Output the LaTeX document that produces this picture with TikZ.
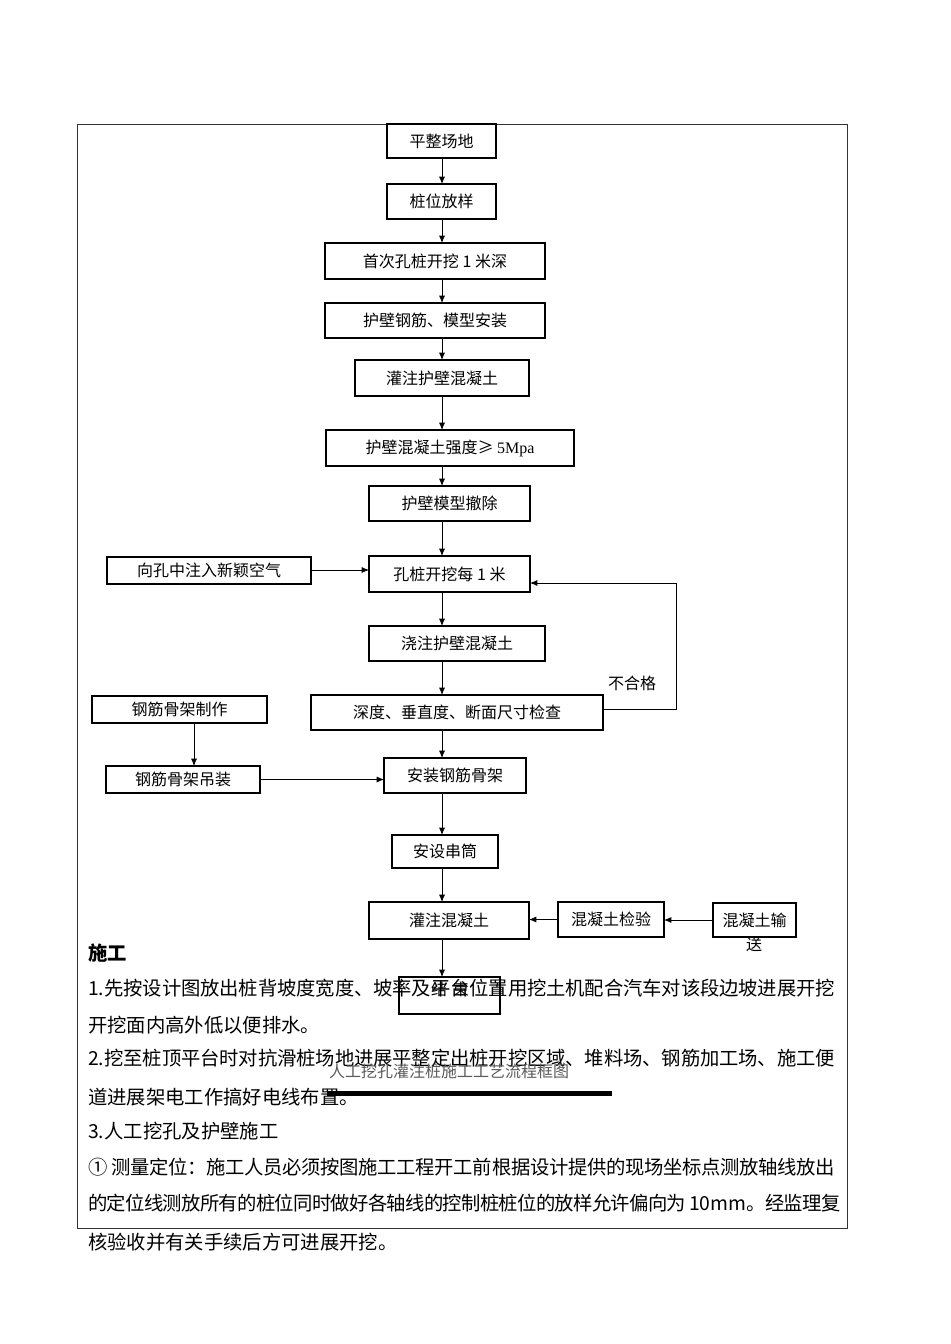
\documentclass[tikz,border=0pt]{standalone}
\usepackage{fontspec}
\setmainfont{Noto Sans CJK SC}
\newfontfamily\latserif{Liberation Serif}
\usetikzlibrary{arrows.meta}
\XeTeXinterchartokenstate=1
\makeatletter
\count@="3000
\loop\ifnum\count@<"A000 \XeTeXcharclass\count@=7 \advance\count@\@ne\repeat
\count@="FF00
\loop\ifnum\count@<"FFF0 \XeTeXcharclass\count@=7 \advance\count@\@ne\repeat
\makeatother
\XeTeXinterchartoks 7 7 = {\hskip 0pt plus 1pt minus 0.5pt\relax}
\tikzset{
  bx/.style={draw, line width=0.9pt, inner sep=0pt, outer sep=0pt, font=\fontsize{12}{14}\selectfont},
  arr/.style={-{Latex[length=5.5pt,width=4.5pt]}, line width=0.6pt},
  body/.style={anchor=west, inner sep=0pt, font=\fontsize{14.5}{17}\selectfont},
  lbl/.style={inner sep=0pt, font=\fontsize{12}{14}\selectfont},
}
\begin{document}
\begin{tikzpicture}[x=0.75pt,y=-0.75pt]
\useasboundingbox (0,0) rectangle (950,1344);
% frame
\draw[line width=0.6pt, black!80] (77,124) rectangle (847,1228);
% boxes
\node[bx, minimum width=81.75pt, minimum height=25.5pt] (n1) at (441.5,141) {平整场地};
\node[bx, minimum width=81.75pt, minimum height=26.25pt] (n2) at (441.5,201.5) {桩位放样};
\node[bx, minimum width=165pt, minimum height=27pt] (n3) at (435,261) {首次孔桩开挖 1 米深};
\node[bx, minimum width=165pt, minimum height=26.25pt] (n4) at (435,320.5) {护壁钢筋、模型安装};
\node[bx, minimum width=130.5pt, minimum height=27pt] (n5) at (442,378) {灌注护壁混凝土};
\node[bx, minimum width=186pt, minimum height=27pt] (n6) at (450,448) {护壁混凝土强度≥ {\latserif 5Mpa}};
\node[bx, minimum width=120.75pt, minimum height=26.25pt] (n7) at (449.5,503.5) {护壁模型撤除};
\node[bx, minimum width=120.75pt, minimum height=27pt] (n8) at (449.5,574) {孔桩开挖每 1 米};
\node[bx, minimum width=153pt, minimum height=20.25pt] (n9) at (209,570.5) {向孔中注入新颖空气};
\node[bx, minimum width=132pt, minimum height=26.25pt] (n10) at (457,643.5) {浇注护壁混凝土};
\node[bx, minimum width=219pt, minimum height=26.25pt] (n11) at (457,712.5) {深度、垂直度、断面尺寸检查};
\node[bx, minimum width=131.25pt, minimum height=20.25pt] (n12) at (179.5,709.5) {钢筋骨架制作};
\node[bx, minimum width=115.5pt, minimum height=20.25pt] (n13) at (183,779.5) {钢筋骨架吊装};
\node[bx, minimum width=106.5pt, minimum height=26.25pt] (n14) at (455,775.5) {安装钢筋骨架};
\node[bx, minimum width=79.5pt, minimum height=24.75pt] (n15) at (445,851.5) {安设串筒};
\node[bx, minimum width=120pt, minimum height=27.75pt] (n16) at (449,920.5) {灌注混凝土};
\node[bx, minimum width=79.5pt, minimum height=26.25pt] (n17) at (611,919.5) {混凝土检验};
\node[bx, minimum width=62.25pt, minimum height=25.5pt] (n18) at (754.5,920) {混凝土输};
\node[lbl] (n18b) at (754,944) {送};
\node[bx, minimum width=75.75pt, minimum height=27.75pt] (n19) at (449.5,995.5) {};
\node[lbl] (n19t) at (450,989) {结\hspace{0.35em}束};
% connectors
\coordinate (col) at (442,0);
\draw[arr] (n1.south -| col) -- (n2.north -| col);
\draw[arr] (n2.south -| col) -- (n3.north -| col);
\draw[arr] (n3.south -| col) -- (n4.north -| col);
\draw[arr] (n4.south -| col) -- (n5.north -| col);
\draw[arr] (n5.south -| col) -- (n6.north -| col);
\draw[arr] (n6.south -| col) -- (n7.north -| col);
\draw[arr] (n7.south -| col) -- (n8.north -| col);
\draw[arr] (n8.south -| col) -- (n10.north -| col);
\draw[arr] (n10.south -| col) -- (n11.north -| col);
\draw[arr] (n11.south -| col) -- (n14.north -| col);
\draw[arr] (n14.south -| col) -- (n15.north -| col);
\draw[arr] (n15.south -| col) -- (n16.north -| col);
\draw[arr] (n16.south -| col) -- (n19.north -| col);
\coordinate (c9) at (0,570);
\draw[arr] (n9.east |- c9) -- (n8.west |- c9);
\coordinate (c12) at (194,0);
\draw[arr] (n12.south -| c12) -- (n13.north -| c12);
\draw[arr] (n13.east) -- (n13.east -| n14.west);
\draw[arr] (n17.west) -- (n17.west -| n16.east);
\draw[arr] (n18.west) -- (n18.west -| n17.east);
\coordinate (fbl) at (676,709);
\coordinate (fbt) at (676,583);
\draw[arr] (n11.east |- fbl) -- (fbl) -- (fbt) -- (fbt -| n8.east);
\node[lbl] (ng) at (632,683) {不合格};
% body text
\node[body] (t0) at (88,953) {\bfseries 施工};
\node[body] (t1) at (88,988) {\hbox to 560pt{1.先按设计图放出桩背坡度宽度、坡率及平台位置用挖土机配合汽车对该段边坡进展开挖}};
\node[body] (t2) at (88,1025) {开挖面内高外低以便排水。};
\node[body] (t3) at (88,1058) {\hbox to 560pt{2.挖至桩顶平台时对抗滑桩场地进展平整定出桩开挖区域、堆料场、钢筋加工场、施工便}};
\node[body] (t4) at (88,1097) {道进展架电工作搞好电线布置。};
\node[body] (t5) at (88,1131) {3.人工挖孔及护壁施工};
\node[body] (t6) at (88,1167) {\hbox to 560pt{① 测量定位：施工人员必须按图施工工程开工前根据设计提供的现场坐标点测放轴线放出}};
\node[body] (t7) at (88,1203) {\hbox to 560pt{的定位线测放所有的桩位同时做好各轴线的控制桩桩位的放样允许偏向为 10mm。经监理复}};
\node[body] (t8) at (88,1242) {核验收并有关手续后方可进展开挖。};
% caption and bar
\node[lbl, text=black!65] (cap) at (449,1071) {人工挖孔灌注桩施工工艺流程框图};
\draw[line width=3.75pt] (327,1093) -- (612,1093);
\end{tikzpicture}
\end{document}
